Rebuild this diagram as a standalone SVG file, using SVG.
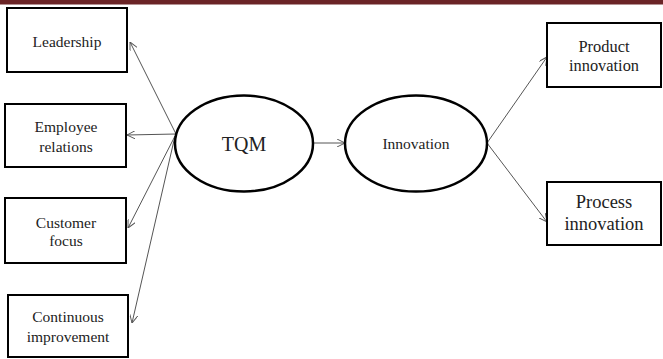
<svg xmlns="http://www.w3.org/2000/svg" width="663" height="359" viewBox="0 0 663 359">
<style>
.box{fill:#fff;stroke:#000;stroke-width:2}
.ell{fill:#fff;stroke:#000;stroke-width:2.5}
text{font-family:"Liberation Serif","Times New Roman",serif;fill:#222;text-anchor:middle}
.t{font-size:15.5px}
.c{fill:none;stroke:#555;stroke-width:1;marker-end:url(#ah)}
</style>
<defs>
<marker id="ah" viewBox="0 0 10 10" refX="10" refY="5" markerWidth="8" markerHeight="8" markerUnits="userSpaceOnUse" orient="auto">
<path d="M0,0 L10,5 L0,10" fill="none" stroke="#555" stroke-width="1.2"/>
</marker>
</defs>
<rect x="0" y="0" width="663" height="4.5" fill="#6b2426"/>
<g id="connectors">
<line class="c" x1="176" y1="134" x2="130" y2="42"/>
<line class="c" x1="176" y1="134" x2="127" y2="135"/>
<line class="c" x1="175" y1="136" x2="128" y2="228"/>
<line class="c" x1="175" y1="136" x2="132" y2="323"/>
<line class="c" x1="313" y1="143" x2="345" y2="143"/>
<line class="c" x1="487" y1="143" x2="547" y2="57"/>
<line class="c" x1="487" y1="143" x2="547" y2="222"/>
</g>
<g id="leadership"><rect class="box" x="7" y="8" width="120" height="64"/><text class="t" x="67" y="47">Leadership</text></g>
<g id="employee"><rect class="box" x="5" y="104" width="121" height="63"/><text class="t" x="66" y="132">Employee</text><text class="t" x="66" y="152">relations</text></g>
<g id="customer"><rect class="box" x="5" y="198" width="121" height="65"/><text class="t" x="66" y="228">Customer</text><text class="t" x="66" y="246">focus</text></g>
<g id="continuous"><rect class="box" x="8" y="295" width="120" height="62"/><text class="t" x="68" y="322">Continuous</text><text class="t" x="68" y="342">improvement</text></g>
<g id="tqm"><ellipse class="ell" cx="244" cy="143.5" rx="69" ry="48"/><text x="244" y="151" style="font-size:20px">TQM</text></g>
<g id="innovation"><ellipse class="ell" cx="416" cy="143.5" rx="71" ry="48"/><text class="t" x="416" y="149">Innovation</text></g>
<g id="product"><rect class="box" x="547" y="23" width="114" height="64"/><text x="604" y="52" style="font-size:16.4px">Product</text><text x="604" y="71" style="font-size:16.4px">innovation</text></g>
<g id="process"><rect class="box" x="547" y="182" width="114" height="63"/><text x="604" y="208" style="font-size:18.5px">Process</text><text x="604" y="230" style="font-size:18.5px">innovation</text></g>
</svg>
